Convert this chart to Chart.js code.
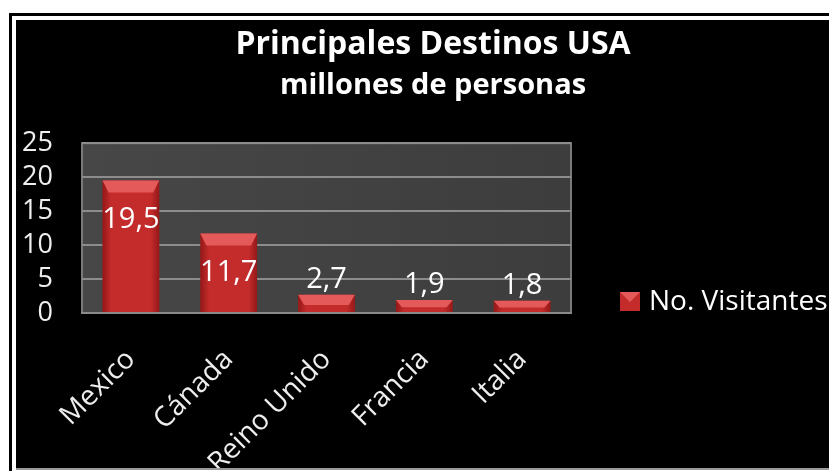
<!DOCTYPE html>
<html lang="es">
<head>
<meta charset="utf-8">
<title>Principales Destinos USA</title>
<script src="https://cdn.jsdelivr.net/npm/chart.js@4.4.1/dist/chart.umd.min.js"></script>
<style>
  body {
    margin: 0;
    background: #fff;
    width: 829px;
    height: 471px;
    overflow: hidden;
    position: relative;
  }
  #marco {
    position: absolute;
    left: 9px;
    top: 13px;
    width: 820px;
    height: 458px;
    border-top: 3px solid #000;
    border-left: 3px solid #000;
  }
  #contenedor-canvas {
    position: absolute;
    left: 16px;
    top: 20px;
    width: 813px;
    height: 448px;
    overflow: hidden;
    background: #000;
    border-bottom: 2px solid #9a9a9a;
  }
</style>
</head>
<body>
<div id="marco"></div>
<div id="contenedor-canvas"><canvas id="grafico" width="834" height="448"></canvas></div>
<script>
const paises = ["Mexico", "Cánada", "Reino Unido", "Francia", "Italia"];
const visitantes = [19.5, 11.7, 2.7, 1.9, 1.8];
const nombreSerie = "No. Visitantes";
const titulo = "Principales Destinos USA";
const subtitulo = "millones de personas";
const ticksY = [0, 5, 10, 15, 20, 25];

const fuente = "'Open Sans', 'DejaVu Sans', sans-serif";
const rojo = "#c42b2b";
const rojoClaro = "#e45a5a";

/******************************************************************
 * Fondo gris del area de grafico (pared)
 ******************************************************************/
const pared = {
  id: "pared",
  beforeDraw: (chart) => {
    const { ctx, chartArea: a } = chart;
    ctx.save();
    const g = ctx.createLinearGradient(a.left, 0, a.right, 0);
    g.addColorStop(0, "#474747");
    g.addColorStop(1, "#3d3d3d");
    ctx.fillStyle = g;
    ctx.fillRect(a.left, a.top, a.right - a.left, a.bottom - a.top);
    ctx.strokeStyle = "#7a7a7a";
    ctx.lineWidth = 2;
    ctx.strokeRect(a.left, a.top, a.right - a.left, a.bottom - a.top);
    ctx.restore();
  },
};

/******************************************************************
 * Relieve de las barras y etiquetas con el valor
 ******************************************************************/
const relieve = {
  id: "relieve",
  afterDatasetsDraw: (chart) => {
    const { ctx } = chart;
    const meta = chart.getDatasetMeta(0);
    ctx.save();
    meta.data.forEach((barra, i) => {
      const { x, y, base, width } = barra.getProps(["x", "y", "base", "width"], true);
      const izq = x - width / 2;
      const der = x + width / 2;
      const alto = base - y;

      // sombra en los costados
      const lado = ctx.createLinearGradient(izq, 0, der, 0);
      lado.addColorStop(0, "rgba(90,0,0,0.45)");
      lado.addColorStop(0.15, "rgba(90,0,0,0)");
      lado.addColorStop(0.85, "rgba(90,0,0,0)");
      lado.addColorStop(1, "rgba(90,0,0,0.45)");
      ctx.fillStyle = lado;
      ctx.fillRect(izq, y, width, alto);

      // tapa superior mas clara
      const tapa = Math.min(12, alto * 0.6);
      ctx.beginPath();
      ctx.moveTo(izq, y);
      ctx.lineTo(der, y);
      ctx.lineTo(der - 6, y + tapa);
      ctx.lineTo(izq + 6, y + tapa);
      ctx.closePath();
      ctx.fillStyle = rojoClaro;
      ctx.fill();

      // valor
      const texto = visitantes[i].toString().replace(".", ",");
      ctx.font = `29px ${fuente}`;
      ctx.fillStyle = "#ffffff";
      ctx.textAlign = "center";
      ctx.textBaseline = "middle";
      const ty = alto > 60 ? y + 39 : y - 15;
      ctx.fillText(texto, x, ty);
    });
    ctx.restore();
  },
};

/******************************************************************
 * Leyenda a la derecha, a la altura de la base
 ******************************************************************/
const leyenda = {
  id: "leyenda",
  afterDraw: (chart) => {
    const { ctx, chartArea: a } = chart;
    const serie = chart.data.datasets[0];
    const bx = a.right + 49;
    const cy = a.bottom - 11;
    ctx.save();
    ctx.fillStyle = rojo;
    ctx.fillRect(bx, cy - 10, 20, 19);
    ctx.beginPath();
    ctx.moveTo(bx, cy - 10);
    ctx.lineTo(bx + 20, cy - 10);
    ctx.lineTo(bx + 10, cy);
    ctx.closePath();
    ctx.fillStyle = rojoClaro;
    ctx.fill();
    ctx.font = `28px ${fuente}`;
    ctx.fillStyle = "#ffffff";
    ctx.textAlign = "left";
    ctx.textBaseline = "middle";
    ctx.fillText(serie.label, bx + 29, cy);
    ctx.restore();
  },
};

const canvas = document.getElementById("grafico");

new Chart(canvas, {
  type: "bar",
  data: {
    labels: paises,
    datasets: [
      {
        label: nombreSerie,
        data: visitantes,
        backgroundColor: rojo,
        borderWidth: 0,
        categoryPercentage: 1,
        barPercentage: 0.58,
      },
    ],
  },
  options: {
    responsive: false,
    animation: false,
    scales: {
      x: {
        grid: { display: false, drawTicks: false },
        border: { color: "#8a8a8a", width: 2 },
        ticks: {
          color: "#eeeeee",
          font: { family: fuente, size: 28 },
          minRotation: 45,
          maxRotation: 45,
          padding: 30,
        },
        afterFit: (escala) => {
          escala.height = 155;
        },
      },
      y: {
        min: 0,
        max: 25,
        afterBuildTicks: (escala) => {
          escala.ticks = ticksY.map((v) => ({ value: v }));
        },
        grid: { color: "#8c8c8c", lineWidth: 2, drawTicks: false },
        border: { display: false },
        ticks: {
          color: "#eeeeee",
          font: { family: fuente, size: 27 },
          padding: 29,
          autoSkip: false,
        },
        afterFit: (escala) => {
          escala.width = 66;
        },
      },
      // eje vacio a la derecha: deja sitio para la leyenda
      hueco: {
        type: "linear",
        position: "right",
        grid: { display: false, drawTicks: false },
        border: { display: false },
        ticks: { display: false },
        afterFit: (escala) => {
          escala.width = 279;
        },
      },
    },
    plugins: {
      title: {
        display: true,
        text: titulo,
        color: "#ffffff",
        font: { family: fuente, size: 32, weight: "bold" },
        padding: { top: 6, bottom: 0 },
      },
      subtitle: {
        display: true,
        text: subtitulo,
        color: "#ffffff",
        font: { family: fuente, size: 29, weight: "bold" },
        padding: { top: 4, bottom: 40 },
      },
      legend: { display: false },
      tooltip: { enabled: false },
    },
  },
  plugins: [pared, relieve, leyenda],
});
</script>
</body>
</html>
